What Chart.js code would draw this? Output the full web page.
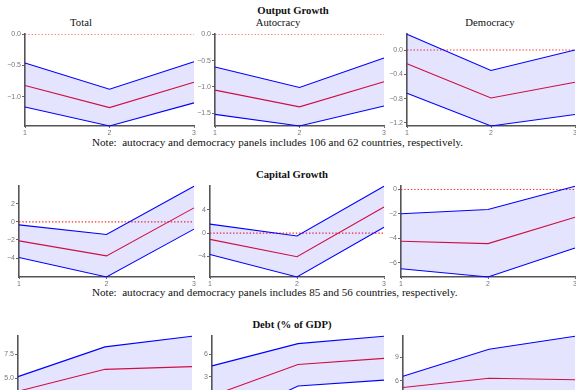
<!DOCTYPE html>
<html>
<head>
<meta charset="utf-8">
<script src="https://cdn.jsdelivr.net/npm/chart.js@4/dist/chart.umd.min.js"></script>
<style>
  html, body { margin: 0; padding: 0; background: #fff; }
  body { position: relative; width: 576px; height: 390px; overflow: hidden;
         font-family: "Liberation Serif", "Times New Roman", serif; }
  .t { position: absolute; font-size: 10.7px; line-height: 11px; white-space: nowrap; color: #111; }
  .n { font-size: 11.1px; }
  .c { transform: translateX(-50%); }
  .b { font-weight: bold; }
  canvas { position: absolute; }
</style>
</head>
<body>
<div class="t b c" style="left:293px;top:4.5px;">Output Growth</div>
<div class="t c" style="left:81px;top:17px;">Total</div>
<div class="t c" style="left:278px;top:17px;">Autocracy</div>
<div class="t c" style="left:490px;top:17px;">Democracy</div>
<div class="t n" style="left:92px;top:137px;">Note:&nbsp; autocracy and democracy panels includes 106 and 62 countries, respectively.</div>
<div class="t b c" style="left:292px;top:168.5px;">Capital Growth</div>
<div class="t n" style="left:92px;top:287px;">Note:&nbsp; autocracy and democracy panels includes 85 and 56 countries, respectively.</div>
<div class="t b c" style="left:292px;top:318.5px;">Debt (% of GDP)</div>

<script>
// Horizon (periods after the event)
const periods = [1, 2, 3];

// Output growth: upper band, point estimate, lower band
const outTotalHi   = [-0.46, -0.88, -0.44];
const outTotalMean = [-0.82, -1.175, -0.77];
const outTotalLo   = [-1.165, -1.47, -1.10];
const outAutoHi    = [-0.62, -1.01, -0.45];
const outAutoMean  = [-1.06, -1.377, -0.90];
const outAutoLo    = [-1.52, -1.74, -1.36];
const outDemoHi    = [0.26, -0.337, 0.0];
const outDemoMean  = [-0.226, -0.79, -0.53];
const outDemoLo    = [-0.71, -1.25, -1.06];

// Capital growth
const capTotalHi   = [-0.33, -1.4, 3.95];
const capTotalMean = [-2.1, -3.76, 1.55];
const capTotalLo   = [-3.94, -6.1, -0.8];
const capAutoHi    = [1.55, -0.5, 8.1];
const capAutoMean  = [-1.1, -4.1, 4.5];
const capAutoLo    = [-3.7, -7.6, 1.0];
const capDemoHi    = [-1.99, -1.64, 0.27];
const capDemoMean  = [-4.24, -4.43, -2.27];
const capDemoLo    = [-6.48, -7.16, -4.78];

// Debt (% of GDP)
const debtTotalHi   = [5.2, 8.27, 9.37];
const debtTotalMean = [3.69, 5.95, 6.23];
const debtTotalLo   = [2.2, 3.6, 3.1];
const debtAutoHi    = [4.47, 7.45, 8.45];
const debtAutoMean  = [0.45, 4.66, 5.47];
const debtAutoLo    = [-3.73, 1.76, 2.56];
const debtDemoHi    = [6.56, 10.05, 11.74];
const debtDemoMean  = [5.1, 6.3, 6.1];
const debtDemoLo    = [3.6, 2.6, 0.5];

// Y tick values for each panel
const outTotalTicks  = [0, -0.5, -1.0];
const outAutoTicks   = [0, -0.5, -1.0, -1.5];
const outDemoTicks   = [0, -0.4, -0.8, -1.2];
const capTotalTicks  = [2, 0, -2, -4];
const capAutoTicks   = [4, 0, -4];
const capDemoTicks   = [0, -2, -4, -6];
const debtTotalTicks = [7.5, 5.0, 2.5, 0.0];
const debtAutoTicks  = [6, 3, 0, -3];
const debtDemoTicks  = [9, 6, 3, 0];

const YW = 26, XH = 12, PADT = 5, PADR = 6;
const BLUE = '#0000ff', RED = '#e8102c', ZERO = '#ff2a2a';

function pts(arr) { return periods.map((p, i) => ({ x: p, y: arr[i] })); }

function panel(box, hi, mean, lo, yTicks, decimals) {
  const cv = document.createElement('canvas');
  const w = YW + box.w + PADR, h = PADT + box.h + XH;
  cv.width = w; cv.height = h;
  cv.style.left = (box.x - YW) + 'px';
  cv.style.top = (box.y - PADT) + 'px';
  cv.style.width = w + 'px'; cv.style.height = h + 'px';
  document.body.appendChild(cv);

  const yMin = Math.min(...lo, 0), yMax = Math.max(...hi, 0);
  const tickFont = { family: '"Liberation Sans", Arial, sans-serif', size: 7 };

  new Chart(cv, {
    type: 'line',
    data: {
      datasets: [
        { data: pts(hi), borderColor: BLUE, borderWidth: 1.1, pointRadius: 0,
          fill: '+1', backgroundColor: 'rgba(0,0,255,0.105)', clip: false },
        { data: pts(lo), borderColor: BLUE, borderWidth: 1.1, pointRadius: 0,
          fill: false, clip: false },
        { data: pts(mean), borderColor: RED, borderWidth: 1.1, pointRadius: 0,
          fill: false, clip: false },
        { data: pts(periods.map(() => 0)), borderColor: ZERO, borderWidth: 1.2,
          borderDash: [1.4, 1.9], pointRadius: 0, fill: false }
      ]
    },
    options: {
      responsive: false, animation: false, devicePixelRatio: 1,
      layout: { padding: { top: PADT, right: PADR, left: 0, bottom: 0 } },
      plugins: { legend: { display: false }, tooltip: { enabled: false } },
      scales: {
        x: {
          type: 'linear', min: periods[0], max: periods[periods.length - 1],
          afterBuildTicks: s => { s.ticks = periods.map(v => ({ value: v })); },
          afterFit: s => { s.height = XH; },
          grid: { display: true, drawOnChartArea: false, drawTicks: true, tickLength: 2, color: '#666' },
          border: { display: true, color: '#555', width: 1.6 },
          ticks: { font: tickFont, color: '#777', padding: 1, maxRotation: 0,
                   callback: v => String(v) }
        },
        y: {
          type: 'linear', min: yMin, max: yMax,
          afterBuildTicks: s => { s.ticks = yTicks.map(v => ({ value: v })); },
          afterFit: s => { s.width = YW; },
          grid: { display: true, drawOnChartArea: false, drawTicks: true, tickLength: 3, color: '#666' },
          border: { display: true, color: '#555', width: 1.6 },
          ticks: { font: tickFont, color: '#777', padding: 1,
                   callback: v => Number(v).toFixed(decimals).replace('-', '\u2212') }
        }
      }
    }
  });
}

// Output growth row
panel({ x: 25,  y: 34, w: 169, h: 92 }, outTotalHi, outTotalMean, outTotalLo, outTotalTicks, 1);
panel({ x: 215, y: 34, w: 169, h: 92 }, outAutoHi, outAutoMean, outAutoLo, outAutoTicks, 1);
panel({ x: 407, y: 34, w: 168, h: 92 }, outDemoHi, outDemoMean, outDemoLo, outDemoTicks, 1);
// Capital growth row
panel({ x: 19,  y: 186, w: 175, h: 91 }, capTotalHi, capTotalMean, capTotalLo, capTotalTicks, 0);
panel({ x: 210, y: 186, w: 174, h: 91 }, capAutoHi, capAutoMean, capAutoLo, capAutoTicks, 0);
panel({ x: 401, y: 186, w: 174, h: 91 }, capDemoHi, capDemoMean, capDemoLo, capDemoTicks, 0);
// Debt row
panel({ x: 18,  y: 336, w: 174, h: 91 }, debtTotalHi, debtTotalMean, debtTotalLo, debtTotalTicks, 1);
panel({ x: 212, y: 336, w: 172, h: 91 }, debtAutoHi, debtAutoMean, debtAutoLo, debtAutoTicks, 0);
panel({ x: 403, y: 336, w: 172, h: 91 }, debtDemoHi, debtDemoMean, debtDemoLo, debtDemoTicks, 0);
</script>
</body>
</html>
